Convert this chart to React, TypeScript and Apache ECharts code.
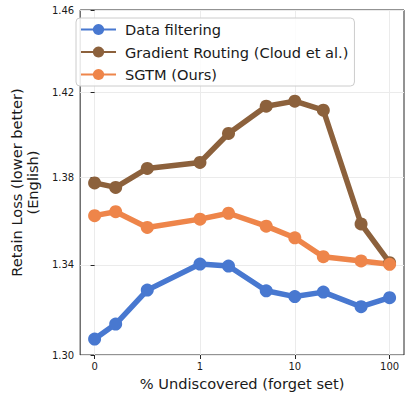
import React, { useEffect, useRef } from "react";
import * as echarts from "echarts";

const xValues = [0, 0.2, 0.5, 1, 2, 5, 10, 20, 50, 100];
const dataFiltering = [1.307, 1.3136, 1.3287, 1.3404, 1.3395, 1.3284, 1.3258, 1.3278, 1.3213, 1.3253];
const gradientRouting = [1.3775, 1.3754, 1.3842, 1.387, 1.4006, 1.4135, 1.4159, 1.4116, 1.3586, 1.341];
const sgtm = [1.3624, 1.3642, 1.357, 1.3608, 1.3635, 1.3576, 1.3523, 1.3437, 1.3418, 1.3403];
const seriesNames = ["Data filtering", "Gradient Routing (Cloud et al.)", "SGTM (Ours)"];
const seriesColors = ["#4878d0", "#8c613c", "#ee854a"];
const xTicks = [0, 1, 10, 100];
const yTicks = [1.3, 1.34, 1.38, 1.42, 1.46];

// matplotlib-like symlog (linthresh=1, linscale=1, base 10)
const LINSCALE = 1 / (1 - 1 / 10);
const symlog = (x: number) => (Math.abs(x) <= 1 ? x * LINSCALE : Math.sign(x) * (LINSCALE + Math.log10(Math.abs(x))));
const ylog = (y: number) => Math.log10(y);

const FONT = "DejaVu Sans";

export default function App() {
  const ref = useRef<HTMLDivElement>(null);
  useEffect(() => {
    if (!ref.current) return;
    const chart = echarts.init(ref.current, null, { renderer: "svg" });
    const xTickPos = xTicks.map(symlog);
    const yTickPos = yTicks.map(ylog);
    const allSeries = [dataFiltering, gradientRouting, sgtm];
    chart.setOption({
      animation: false,
      backgroundColor: "#ffffff",
      grid: {
        left: 68,
        right: 7,
        top: 10,
        bottom: 41,
        show: true,
        borderColor: "#262626",
        borderWidth: 1,
        backgroundColor: "transparent",
      },
      legend: {
        orient: "vertical",
        left: 76,
        top: 18,
        padding: [4, 6, 4, 4],
        itemWidth: 35,
        itemHeight: 14,
        itemGap: 7.5,
        backgroundColor: "rgba(255,255,255,0.85)",
        borderColor: "#cccccc",
        borderWidth: 1,
        borderRadius: 4,
        textStyle: { fontFamily: FONT, fontSize: 14.6, color: "#1a1a1a", padding: [0, 0, 0, 4] },
        data: seriesNames,
      },
      xAxis: {
        type: "value",
        min: -15 / 98.5,
        max: (389.4 - 83 + 15) / 98.5,
        axisLine: { show: false },
        axisTick: { show: true, length: 4, customValues: xTickPos, lineStyle: { color: "#262626" } },
        axisLabel: {
          customValues: xTickPos,
          margin: 6,
          fontFamily: FONT,
          fontSize: 10,
          color: "#1a1a1a",
          formatter: (v: number) => {
            let best = 0;
            xTickPos.forEach((p, i) => {
              if (Math.abs(p - v) < Math.abs(xTickPos[best] - v)) best = i;
            });
            return String(xTicks[best]);
          },
        },
        splitLine: { show: true, lineStyle: { color: "#ebebeb", width: 1 } },
        name: "% Undiscovered (forget set)",
        nameLocation: "middle",
        nameGap: 17,
        nameTextStyle: { fontFamily: FONT, fontSize: 14.6, color: "#1a1a1a" },
      },
      yAxis: {
        type: "value",
        min: ylog(1.3),
        max: ylog(1.46),
        axisLine: { show: false },
        axisTick: { show: true, length: 4, customValues: yTickPos, lineStyle: { color: "#262626" } },
        axisLabel: {
          customValues: yTickPos,
          margin: 6,
          fontFamily: FONT,
          fontSize: 10,
          color: "#1a1a1a",
          formatter: (v: number) => Math.pow(10, v).toFixed(2),
        },
        splitLine: { show: true, lineStyle: { color: "#ebebeb", width: 1 } },
        name: "Retain Loss (lower better)\n(English)",
        nameLocation: "middle",
        nameRotate: 90,
        nameGap: 32,
        nameTextStyle: { fontFamily: FONT, fontSize: 14.6, color: "#1a1a1a", lineHeight: 16.5 },
      },
      series: allSeries.map((vals, si) => ({
        name: seriesNames[si],
        type: "line",
        data: vals.map((v, i) => [symlog(xValues[i]), ylog(v)]),
        symbol: "circle",
        symbolSize: 13,
        showSymbol: true,
        lineStyle: { width: 5.5, color: seriesColors[si] },
        itemStyle: { color: seriesColors[si], borderWidth: 0 },
        emphasis: { disabled: true },
      })),
    });
    return () => chart.dispose();
  }, []);
  return <div ref={ref} style={{ position: "fixed", left: 0, top: 0, width: 411, height: 396 }} />;
}
